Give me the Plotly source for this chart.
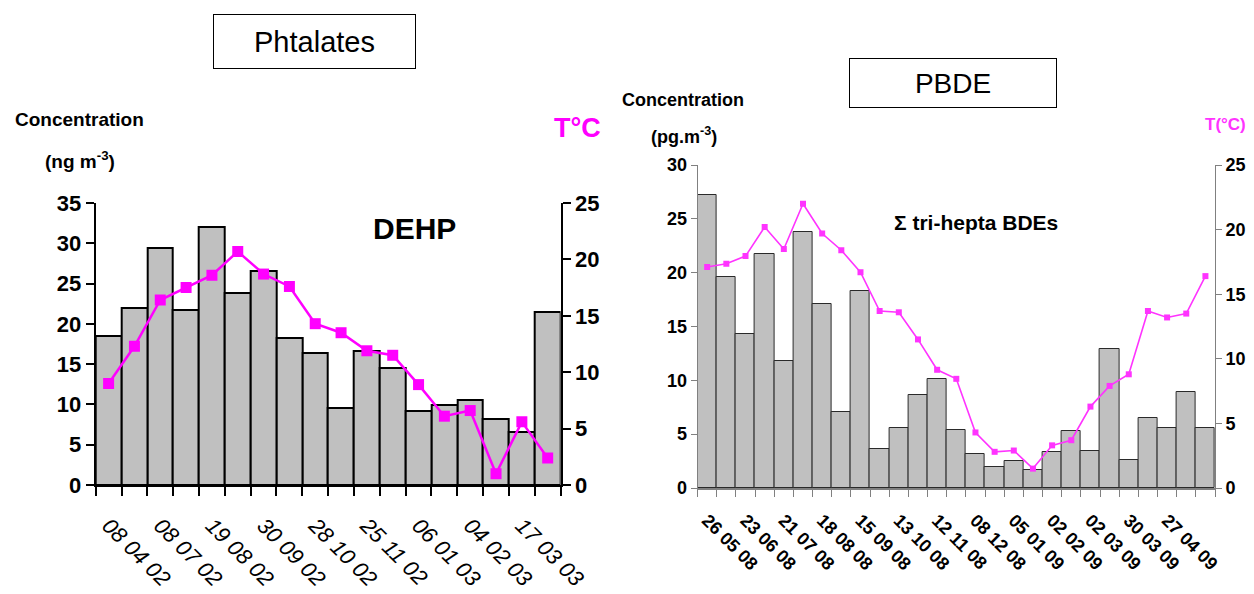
import plotly.graph_objects as go

# page body has an 8px margin: draw the figure 8px smaller and shift coordinates
OFF = 8
W, H = 1254 - OFF, 594 - OFF

# ---------------- data ----------------
dehp_labels = ["08 04 02", "08 07 02", "19 08 02", "30 09 02", "28 10 02",
               "25 11 02", "06 01 03", "04 02 03", "17 03 03"]
dehp_conc = [18.5, 22.0, 29.4, 21.7, 32.0, 23.8, 26.5, 18.3, 16.4,
             9.5, 16.6, 14.5, 9.2, 9.9, 10.5, 8.2, 6.6, 21.5]
dehp_temp = [9.0, 12.3, 16.4, 17.5, 18.6, 20.7, 18.7, 17.6, 14.3,
             13.5, 11.9, 11.5, 8.9, 6.1, 6.6, 1.0, 5.6, 2.4]

pbde_labels = ["26 05 08", "23 06 08", "21 07 08", "18 08 08", "15 09 08",
               "13 10 08", "12 11 08", "08 12 08", "05 01 09", "02 02 09",
               "02 03 09", "30 03 09", "27 04 09", "25 05 09"]
pbde_conc = [27.2, 19.6, 14.3, 21.7, 11.8, 23.8, 17.1, 7.1, 18.3, 3.6,
             5.6, 8.6, 10.1, 5.4, 3.2, 1.95, 2.5, 1.7, 3.3, 5.3,
             3.4, 12.9, 2.6, 6.5, 5.6, 8.9, 5.6]
pbde_temp = [17.1, 17.35, 17.95, 20.2, 18.5, 22.0, 19.7, 18.4, 16.7, 13.7,
             13.6, 11.5, 9.15, 8.45, 4.3, 2.8, 2.9, 1.5, 3.3, 3.7,
             6.3, 7.9, 8.8, 13.7, 13.2, 13.5, 16.4]

# ---------------- styling ----------------
BOLD = "Liberation Sans, Arial, sans-serif"
SANS = "Liberation Sans, Arial, sans-serif"
BAR = "#c0c0c0"
MAG = "#ff00ff"
MAG2 = "#ff33ff"


def px(x):
    return (x - OFF) / W


def py(y):
    return 1 - (y - OFF) / H


n1 = len(dehp_conc)
n2 = len(pbde_conc)
x1 = list(range(n1))
x2 = list(range(n2))

fig = go.Figure()

fig.add_trace(go.Bar(x=x1, y=dehp_conc, xaxis="x", yaxis="y",
                     marker=dict(color=BAR, line=dict(color="black", width=2)),
                     showlegend=False))
fig.add_trace(go.Scatter(x=x1, y=dehp_temp, xaxis="x", yaxis="y2", mode="lines+markers",
                         line=dict(color=MAG, width=2.5),
                         marker=dict(symbol="square", size=11, color=MAG),
                         showlegend=False))

fig.add_trace(go.Bar(x=x2, y=pbde_conc, xaxis="x2", yaxis="y3",
                     marker=dict(color=BAR, line=dict(color="#2a2a2a", width=1)),
                     showlegend=False))
fig.add_trace(go.Scatter(x=x2, y=pbde_temp, xaxis="x2", yaxis="y4", mode="lines+markers",
                         line=dict(color=MAG2, width=1.6),
                         marker=dict(symbol="square", size=6, color=MAG2),
                         showlegend=False))

ytick1 = dict(family=BOLD, size=22, color="black", weight="bold")
ytick2 = dict(family=BOLD, size=18, color="black", weight="bold")

fig.update_layout(
    template="none",
    width=W, height=H,
    margin=dict(l=0, r=0, t=0, b=0),
    paper_bgcolor="white", plot_bgcolor="rgba(0,0,0,0)",
    bargap=0,
    xaxis=dict(domain=[px(95.7), px(560.6)], anchor="y", range=[-0.5, n1 - 0.5],
               tickmode="array", tickvals=x1[::2], ticktext=dehp_labels,
               tickangle=45, ticks="", showgrid=False, zeroline=False, automargin=False,
               showline=True, linecolor="black", linewidth=2, ticklabelstandoff=17,
               tickfont=dict(family=SANS, size=22, color="black", style="italic"),
               minor=dict(tickmode="linear", tick0=-0.5, dtick=1, ticks="outside",
                          ticklen=9, tickwidth=1.5, tickcolor="black", showgrid=False)),
    yaxis=dict(domain=[py(485), py(203)], anchor="x", range=[0, 35], dtick=5,
               ticks="outside", ticklen=8, tickwidth=1.5, tickcolor="black",
               showline=True, linecolor="black", linewidth=2, showgrid=False,
               zeroline=False, automargin=False, tickfont=ytick1),
    yaxis2=dict(overlaying="y", anchor="x", side="right", range=[0, 25], dtick=5,
                ticks="outside", ticklen=8, tickwidth=1.5, tickcolor="black",
                showline=True, linecolor="black", linewidth=2, showgrid=False,
                zeroline=False, automargin=False, tickfont=ytick1),
    xaxis2=dict(domain=[px(697.6), px(1215)], anchor="y3", range=[-0.5, n2 - 0.5],
                tickmode="array", tickvals=x2[::2], ticktext=pbde_labels,
                tickangle=45, ticks="", showgrid=False, zeroline=False, automargin=False,
                showline=True, linecolor="#808080", linewidth=1.5, ticklabelstandoff=13,
                tickfont=dict(family=BOLD, size=18, color="black", weight="bold"),
                minor=dict(tickmode="linear", tick0=-0.5, dtick=1, ticks="outside",
                           ticklen=7, tickwidth=1, tickcolor="#808080", showgrid=False)),
    yaxis3=dict(domain=[py(488), py(165)], anchor="x2", range=[0, 30], dtick=5,
                ticks="outside", ticklen=6, tickwidth=1, tickcolor="#808080",
                showline=True, linecolor="#808080", linewidth=1, showgrid=False,
                zeroline=False, automargin=False, tickfont=ytick2),
    yaxis4=dict(overlaying="y3", anchor="x2", side="right", range=[0, 25], dtick=5,
                ticks="outside", ticklen=6, tickwidth=1, tickcolor="#808080",
                showline=True, linecolor="#808080", linewidth=1, showgrid=False,
                zeroline=False, automargin=False, tickfont=ytick2),
)

anns = [
    # title boxes
    dict(x=px(314.5), y=py(41.5), text="Phtalates", width=199, height=51,
         bordercolor="black", borderwidth=1, borderpad=1,
         font=dict(family=SANS, size=29, color="black")),
    dict(x=px(953), y=py(83), text="PBDE", width=204, height=46,
         bordercolor="black", borderwidth=1, borderpad=1,
         font=dict(family=SANS, size=28, color="black")),
    # left chart labels
    dict(x=px(79), y=py(120), text="Concentration",
         font=dict(family=BOLD, size=19, color="black", weight="bold")),
    dict(x=px(80), y=py(160), text="(ng m<sup>-3</sup>)",
         font=dict(family=BOLD, size=19, color="black", weight="bold")),
    dict(x=px(577), y=py(128), text="T°C",
         font=dict(family=BOLD, size=27, color=MAG, weight="bold")),
    dict(x=px(414), y=py(228), text="DEHP",
         font=dict(family=BOLD, size=30, color="black", weight="bold")),
    # right chart labels
    dict(x=px(683), y=py(100), text="Concentration",
         font=dict(family=BOLD, size=18, color="black", weight="bold")),
    dict(x=px(684), y=py(135), text="(pg.m<sup>-3</sup>)",
         font=dict(family=BOLD, size=18, color="black", weight="bold")),
    dict(x=px(1225), y=py(124), text="T(°C)",
         font=dict(family=BOLD, size=17, color=MAG2, weight="bold")),
    dict(x=px(976), y=py(222), text="Σ tri-hepta BDEs",
         font=dict(family=BOLD, size=21, color="black", weight="bold")),
]
for a in anns:
    a.update(xref="paper", yref="paper", showarrow=False,
             xanchor="center", yanchor="middle")
fig.update_layout(annotations=anns)

fig.write_html("out.html")
